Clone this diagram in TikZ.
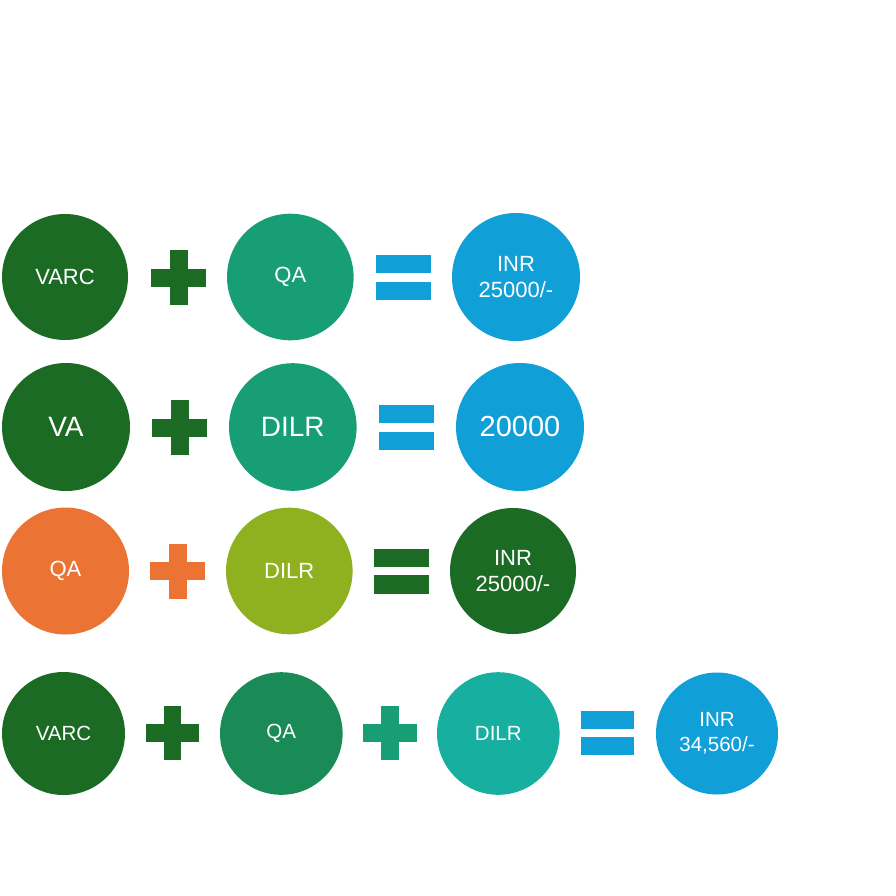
\documentclass[tikz,border=0pt]{standalone}
\usepackage{fontspec}
\setmainfont{Liberation Sans}
\definecolor{dkgreen}{HTML}{1B6B24}
\definecolor{teal1}{HTML}{179E75}
\definecolor{skyblue}{HTML}{119FD8}
\definecolor{orange1}{HTML}{EB7434}
\definecolor{lime1}{HTML}{8FB11F}
\definecolor{green2}{HTML}{1A8A57}
\definecolor{teal2}{HTML}{16AFA0}
\tikzset{
  bubble/.style={circle, inner sep=0pt, text=white, align=center, fill=#1},
  fsA/.style={font=\fontsize{22}{26.5}\selectfont},
  fsB/.style={font=\fontsize{28}{32}\selectfont},
  fsC/.style={font=\fontsize{20.5}{25}\selectfont},
  plussign/.pic={
    \fill[pic actions] (-27.5,-9) rectangle (27.5,9);
    \fill[pic actions] (-9,-27.5) rectangle (9,27.5);
  },
  equalsign/.pic={
    \fill[pic actions] (-27.5,-22.5) rectangle (27.5,-4.2);
    \fill[pic actions] (-27.5,4.2) rectangle (27.5,22.5);
  }
}
\begin{document}
\begin{tikzpicture}[x=1pt,y=-1pt]
\useasboundingbox (0,0) rectangle (896,896);
% Row 1
\node[bubble=dkgreen, minimum size=126pt, fsA] (r1a) at (65,277) {VARC};
\pic[fill=dkgreen] (r1p) at (178.5,277.5) {plussign};
\node[bubble=teal1, minimum size=126.6pt, fsA] (r1b) at (290.3,277) {QA};
\pic[fill=skyblue] (r1e) at (403.5,277.5) {equalsign};
\node[bubble=skyblue, minimum size=128pt, fsA] (r1c) at (516,277) {INR\\25000/-};
% Row 2
\node[bubble=dkgreen, minimum size=128pt, fsB] (r2a) at (66,427) {VA};
\pic[fill=dkgreen] (r2p) at (179.7,427.5) {plussign};
\node[bubble=teal1, minimum size=127.6pt, fsB] (r2b) at (292.8,427) {DILR};
\pic[fill=skyblue] (r2e) at (406.5,427.5) {equalsign};
\node[bubble=skyblue, minimum size=128pt, font=\fontsize{29}{33}\selectfont] (r2c) at (520,427) {20000};
% Row 3
\node[bubble=orange1, minimum size=127pt, fsA] (r3a) at (65.5,571) {QA};
\pic[fill=orange1] (r3p) at (177.5,571) {plussign};
\node[bubble=lime1, minimum size=126.6pt, fsA] (r3b) at (289.3,571) {DILR};
\pic[fill=dkgreen] (r3e) at (401.5,571) {equalsign};
\node[bubble=dkgreen, minimum size=126pt, fsA] (r3c) at (513,571) {INR\\25000/-};
% Row 4
\node[bubble=dkgreen, minimum size=123pt, fsC] (r4a) at (63.5,733.5) {VARC};
\pic[fill=dkgreen, scale=0.965] (r4p) at (172.5,733) {plussign};
\node[bubble=green2, minimum size=122.6pt, fsC] (r4b) at (281.3,733.5) {QA};
\pic[fill=teal1, scale=0.965] (r4q) at (390,733) {plussign};
\node[bubble=teal2, minimum size=122.6pt, fsC] (r4c) at (498.3,733.5) {DILR};
\pic[fill=skyblue, scale=0.96] (r4e) at (607.7,733) {equalsign};
\node[bubble=skyblue, minimum size=122pt, fsC] (r4d) at (717,733.5) {INR\\34,560/-};
\end{tikzpicture}
\end{document}
